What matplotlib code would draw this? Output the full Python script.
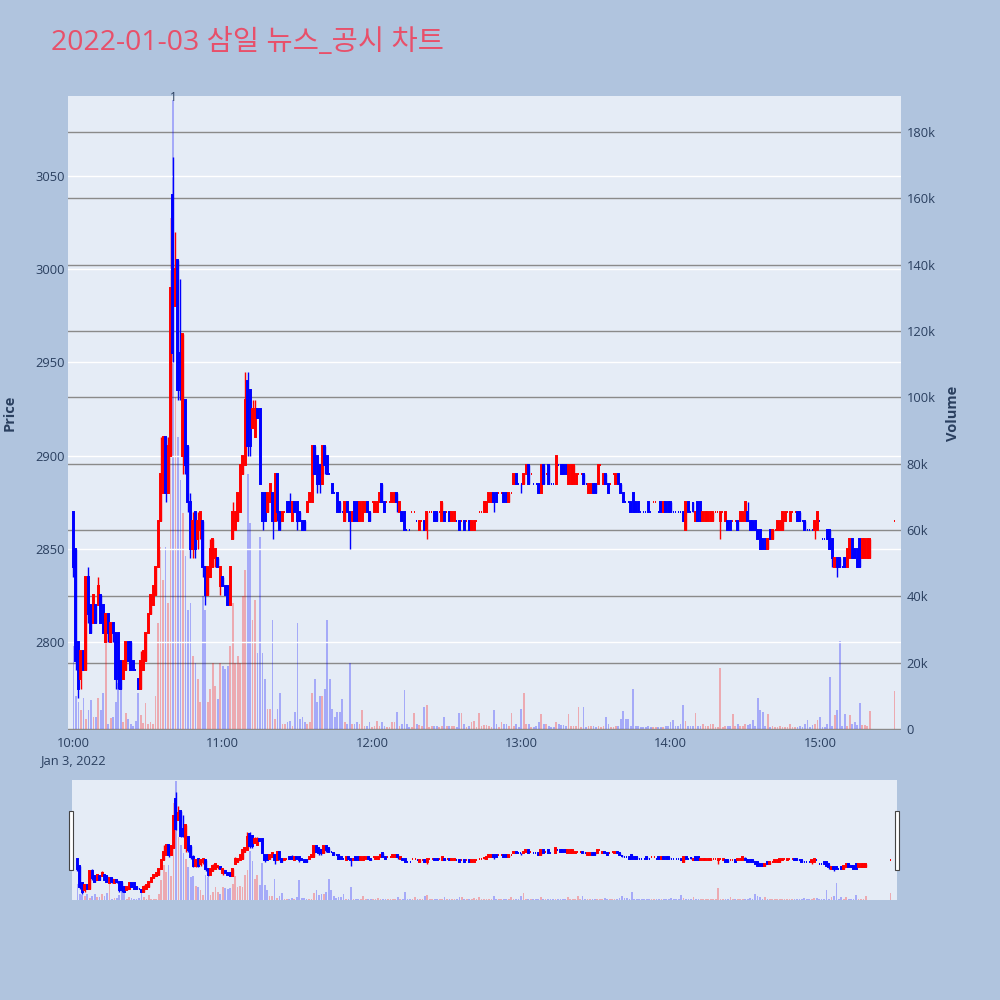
import matplotlib
matplotlib.use("Agg")
import matplotlib.pyplot as plt
from matplotlib.patches import Rectangle
import matplotlib.transforms as mtransforms

plt.rcParams['font.family'] = ['Open Sans', 'Noto Sans CJK KR', 'DejaVu Sans']

TITLE = "2022-01-03 삼일 뉴스_공시 차트"

# minutes after 10:00 (10:00 ... 15:20, then 15:30 close)
minutes = list(range(0, 321)) + [330]

open_ = [
    2870, 2850, 2800, 2780, 2795, 2785, 2835, 2820, 2810, 2820,
    2820, 2825, 2820, 2800, 2815, 2800, 2810, 2805, 2805, 2790,
    2780, 2785, 2800, 2800, 2790, 2785, 2780, 2775, 2785, 2790,
    2805, 2815, 2820, 2825, 2840, 2865, 2880, 2910, 2880, 2900,
    3040, 2980, 3005, 2955, 2900, 2930, 2905, 2875, 2850, 2870,
    2855, 2860, 2865, 2840, 2825, 2835, 2840, 2845, 2845, 2830,
    2835, 2830, 2830, 2820, 2855, 2860, 2865, 2870, 2890, 2895,
    2940, 2935, 2915, 2910, 2925, 2925, 2880, 2880, 2870, 2875,
    2880, 2865, 2890, 2870, 2865, 2870, 2875, 2875, 2865, 2875,
    2875, 2870, 2865, 2865, 2870, 2875, 2875, 2905, 2900, 2895,
    2885, 2905, 2900, 2890, 2885, 2880, 2880, 2875, 2870, 2865,
    2875, 2870, 2865, 2875, 2875, 2865, 2865, 2870, 2875, 2870,
    2875, 2870, 2870, 2875, 2885, 2875, 2875, 2875, 2875, 2875,
    2880, 2870, 2870, 2870, 2860, 2860, 2870, 2870, 2865, 2860,
    2865, 2865, 2860, 2870, 2870, 2870, 2870, 2870, 2865, 2870,
    2870, 2870, 2865, 2865, 2865, 2865, 2865, 2865, 2865, 2865,
    2860, 2860, 2865, 2870, 2870, 2870, 2870, 2875, 2875, 2880,
    2880, 2880, 2880, 2880, 2880, 2875, 2880, 2885, 2890, 2885,
    2885, 2885, 2890, 2895, 2890, 2885, 2885, 2885, 2880, 2895,
    2890, 2895, 2885, 2885, 2885, 2895, 2895, 2895, 2895, 2885,
    2885, 2885, 2885, 2890, 2890, 2890, 2885, 2880, 2880, 2885,
    2885, 2885, 2895, 2885, 2890, 2885, 2885, 2890, 2885, 2890,
    2885, 2880, 2875, 2875, 2875, 2880, 2875, 2875, 2870, 2870,
    2870, 2875, 2870, 2875, 2875, 2870, 2875, 2870, 2875, 2875,
    2875, 2870, 2870, 2870, 2870, 2870, 2860, 2875, 2870, 2875,
    2865, 2875, 2875, 2865, 2865, 2865, 2865, 2865, 2870, 2870,
    2865, 2870, 2865, 2865, 2865, 2865, 2865, 2865, 2865, 2865,
    2865, 2870, 2865, 2865, 2865, 2860, 2860, 2855, 2855, 2850,
    2860, 2855, 2860, 2860, 2860, 2860, 2865, 2870, 2865, 2870,
    2870, 2870, 2870, 2865, 2865, 2860, 2860, 2860, 2860, 2860,
    2865, 2855, 2855, 2860, 2860, 2855, 2840, 2845, 2845, 2840,
    2845, 2840, 2845, 2855, 2850, 2850, 2855, 2845, 2845, 2845, 2845,
    2865,
]

high = [
    2870, 2850, 2800, 2795, 2795, 2835, 2840, 2820, 2825, 2820,
    2835, 2825, 2820, 2815, 2815, 2810, 2810, 2805, 2805, 2790,
    2790, 2800, 2800, 2800, 2790, 2785, 2780, 2795, 2795, 2805,
    2815, 2825, 2830, 2840, 2865, 2910, 2910, 2910, 2910, 2990,
    3060, 3020, 3005, 2995, 2965, 2930, 2905, 2880, 2870, 2870,
    2870, 2870, 2865, 2840, 2840, 2855, 2855, 2850, 2845, 2840,
    2835, 2830, 2830, 2840, 2875, 2870, 2880, 2895, 2900, 2945,
    2945, 2935, 2930, 2930, 2925, 2925, 2880, 2880, 2880, 2885,
    2880, 2890, 2890, 2870, 2870, 2870, 2875, 2880, 2875, 2875,
    2875, 2870, 2865, 2865, 2875, 2880, 2905, 2905, 2900, 2895,
    2905, 2905, 2900, 2890, 2885, 2880, 2880, 2875, 2870, 2875,
    2875, 2870, 2870, 2875, 2875, 2875, 2875, 2875, 2875, 2870,
    2875, 2875, 2875, 2880, 2885, 2875, 2875, 2875, 2880, 2880,
    2880, 2875, 2870, 2870, 2860, 2860, 2870, 2870, 2865, 2865,
    2865, 2865, 2870, 2870, 2870, 2870, 2870, 2870, 2875, 2870,
    2870, 2870, 2870, 2870, 2865, 2865, 2865, 2865, 2865, 2865,
    2865, 2865, 2865, 2870, 2870, 2875, 2875, 2880, 2880, 2880,
    2880, 2880, 2880, 2880, 2880, 2880, 2880, 2890, 2890, 2885,
    2885, 2890, 2895, 2895, 2890, 2885, 2885, 2885, 2895, 2895,
    2890, 2895, 2885, 2885, 2900, 2895, 2895, 2895, 2895, 2895,
    2895, 2895, 2890, 2890, 2890, 2890, 2885, 2885, 2885, 2885,
    2885, 2895, 2895, 2890, 2890, 2885, 2885, 2890, 2890, 2890,
    2885, 2880, 2875, 2875, 2875, 2880, 2875, 2875, 2870, 2870,
    2870, 2875, 2870, 2875, 2875, 2870, 2875, 2875, 2875, 2875,
    2875, 2870, 2870, 2870, 2870, 2870, 2875, 2875, 2870, 2875,
    2870, 2875, 2875, 2870, 2870, 2870, 2870, 2870, 2870, 2870,
    2870, 2870, 2870, 2865, 2865, 2865, 2865, 2865, 2870, 2870,
    2875, 2875, 2865, 2865, 2865, 2860, 2860, 2855, 2855, 2855,
    2860, 2860, 2860, 2865, 2865, 2870, 2870, 2870, 2870, 2870,
    2870, 2870, 2870, 2865, 2865, 2860, 2860, 2860, 2865, 2870,
    2865, 2855, 2855, 2860, 2860, 2855, 2845, 2845, 2845, 2840,
    2845, 2850, 2855, 2855, 2850, 2850, 2855, 2855, 2855, 2855, 2855,
    2865,
]

low = [
    2835, 2785, 2770, 2775, 2785, 2785, 2810, 2805, 2810, 2810,
    2820, 2810, 2805, 2800, 2800, 2800, 2800, 2775, 2775, 2775,
    2780, 2785, 2790, 2785, 2785, 2785, 2775, 2775, 2785, 2790,
    2805, 2815, 2820, 2825, 2840, 2865, 2880, 2875, 2880, 2900,
    2950, 2980, 2930, 2930, 2890, 2890, 2870, 2845, 2845, 2845,
    2850, 2855, 2835, 2820, 2825, 2835, 2840, 2840, 2840, 2825,
    2830, 2825, 2820, 2820, 2855, 2860, 2865, 2870, 2890, 2895,
    2900, 2900, 2915, 2910, 2920, 2885, 2860, 2865, 2870, 2875,
    2855, 2865, 2865, 2860, 2865, 2870, 2870, 2870, 2865, 2870,
    2860, 2865, 2860, 2860, 2870, 2875, 2875, 2890, 2880, 2880,
    2885, 2890, 2890, 2890, 2880, 2880, 2870, 2870, 2870, 2865,
    2870, 2850, 2865, 2865, 2865, 2865, 2865, 2870, 2870, 2865,
    2875, 2870, 2870, 2875, 2875, 2870, 2875, 2875, 2875, 2875,
    2870, 2870, 2865, 2860, 2860, 2860, 2870, 2870, 2865, 2860,
    2865, 2860, 2855, 2870, 2870, 2865, 2865, 2870, 2865, 2865,
    2870, 2865, 2865, 2865, 2865, 2860, 2865, 2860, 2865, 2860,
    2860, 2860, 2865, 2870, 2870, 2870, 2870, 2875, 2875, 2870,
    2875, 2880, 2880, 2875, 2875, 2875, 2880, 2885, 2885, 2885,
    2880, 2885, 2890, 2885, 2890, 2885, 2885, 2880, 2880, 2885,
    2890, 2885, 2885, 2885, 2885, 2895, 2890, 2890, 2890, 2885,
    2885, 2885, 2885, 2890, 2890, 2885, 2885, 2880, 2880, 2880,
    2880, 2885, 2895, 2885, 2885, 2880, 2885, 2890, 2885, 2885,
    2880, 2875, 2875, 2875, 2870, 2870, 2870, 2870, 2870, 2870,
    2870, 2870, 2870, 2875, 2875, 2870, 2870, 2870, 2870, 2870,
    2870, 2870, 2870, 2870, 2870, 2865, 2860, 2870, 2870, 2870,
    2865, 2865, 2865, 2865, 2865, 2865, 2865, 2865, 2870, 2870,
    2855, 2870, 2865, 2860, 2860, 2865, 2865, 2860, 2865, 2865,
    2865, 2865, 2860, 2860, 2860, 2855, 2850, 2850, 2850, 2850,
    2855, 2855, 2860, 2860, 2860, 2860, 2865, 2870, 2865, 2870,
    2870, 2865, 2865, 2865, 2860, 2860, 2860, 2860, 2855, 2860,
    2865, 2855, 2855, 2855, 2850, 2840, 2840, 2835, 2840, 2840,
    2840, 2840, 2845, 2845, 2845, 2840, 2840, 2845, 2845, 2845, 2845,
    2865,
]

close = [
    2840, 2790, 2775, 2795, 2785, 2835, 2815, 2805, 2825, 2810,
    2830, 2810, 2805, 2815, 2805, 2810, 2805, 2780, 2780, 2775,
    2790, 2800, 2790, 2785, 2785, 2785, 2775, 2790, 2795, 2805,
    2815, 2825, 2830, 2840, 2865, 2890, 2910, 2880, 2905, 2990,
    2955, 3000, 2935, 2935, 2965, 2895, 2875, 2850, 2865, 2850,
    2865, 2870, 2840, 2825, 2840, 2850, 2855, 2850, 2840, 2840,
    2830, 2825, 2820, 2840, 2870, 2870, 2880, 2895, 2900, 2930,
    2905, 2905, 2925, 2925, 2920, 2885, 2865, 2865, 2880, 2885,
    2865, 2890, 2870, 2860, 2870, 2870, 2870, 2870, 2875, 2870,
    2865, 2865, 2860, 2860, 2875, 2880, 2905, 2890, 2885, 2885,
    2905, 2895, 2890, 2890, 2880, 2880, 2870, 2870, 2870, 2875,
    2870, 2865, 2870, 2865, 2865, 2875, 2875, 2875, 2870, 2865,
    2875, 2875, 2875, 2880, 2875, 2870, 2875, 2875, 2880, 2880,
    2875, 2875, 2865, 2860, 2860, 2860, 2870, 2870, 2865, 2865,
    2865, 2860, 2870, 2870, 2870, 2865, 2865, 2870, 2875, 2865,
    2870, 2865, 2870, 2870, 2865, 2860, 2865, 2860, 2865, 2860,
    2865, 2865, 2865, 2870, 2870, 2875, 2875, 2880, 2880, 2875,
    2875, 2880, 2880, 2875, 2875, 2880, 2880, 2890, 2885, 2885,
    2885, 2890, 2895, 2885, 2890, 2885, 2885, 2880, 2895, 2885,
    2890, 2885, 2885, 2885, 2900, 2895, 2890, 2890, 2890, 2895,
    2895, 2895, 2890, 2890, 2890, 2885, 2885, 2885, 2885, 2880,
    2880, 2895, 2895, 2890, 2885, 2880, 2885, 2890, 2890, 2885,
    2880, 2875, 2875, 2875, 2870, 2870, 2870, 2870, 2870, 2870,
    2870, 2870, 2870, 2875, 2875, 2870, 2870, 2875, 2870, 2870,
    2870, 2870, 2870, 2870, 2870, 2865, 2875, 2870, 2870, 2870,
    2870, 2865, 2865, 2870, 2870, 2870, 2870, 2870, 2870, 2870,
    2870, 2870, 2870, 2860, 2860, 2865, 2865, 2860, 2870, 2870,
    2875, 2865, 2860, 2860, 2860, 2855, 2850, 2850, 2850, 2855,
    2855, 2860, 2860, 2865, 2865, 2870, 2870, 2870, 2870, 2870,
    2870, 2865, 2865, 2865, 2860, 2860, 2860, 2860, 2865, 2870,
    2865, 2855, 2855, 2855, 2850, 2845, 2845, 2840, 2840, 2840,
    2840, 2850, 2855, 2845, 2845, 2840, 2840, 2855, 2855, 2855, 2855,
    2865,
]

volume = [
    25000, 10000, 8000, 5700, 9200, 3000, 5700, 8700, 3700, 3700,
    9200, 5700, 10800, 34900, 1500, 3200, 3500, 8000, 13800, 12700,
    2000, 4800, 3000, 1500, 1000, 2500, 10800, 4200, 1800, 7900,
    1500, 2000, 1500, 9800, 32000, 55000, 45000, 55000, 38000, 154000,
    189500, 100000, 88000, 75000, 65000, 52000, 36000, 38000, 22000, 20000,
    15000, 8000, 40000, 36000, 8000, 12000, 20000, 13000, 9000, 20000,
    19000, 18000, 19000, 25000, 38000, 20000, 22000, 20000, 40000, 48000,
    77000, 62000, 33000, 39000, 23000, 58000, 23000, 15000, 6000, 6000,
    33000, 3000, 6000, 11000, 1500, 1500, 2000, 2500, 1000, 5000,
    32000, 3000, 3500, 2000, 1500, 2000, 11000, 15000, 8000, 10000,
    10000, 12000, 33000, 15000, 6000, 3500, 5000, 5000, 9000, 2000,
    1500, 20000, 1500, 1500, 2000, 1500, 5700, 1000, 800, 2000,
    500, 800, 2500, 1000, 2000, 800, 600, 500, 2000, 2000,
    5000, 800, 1500, 11700, 1500, 500, 500, 4800, 1500, 1200,
    800, 6600, 7300, 600, 1000, 1000, 800, 500, 1000, 3700,
    800, 800, 1000, 800, 500, 4800, 4800, 1500, 500, 800,
    2000, 2500, 500, 4800, 1000, 1200, 1200, 800, 600, 5700,
    1500, 500, 2000, 1500, 1500, 800, 4800, 1000, 1500, 500,
    6000, 10800, 1500, 1500, 500, 500, 1000, 2000, 4500, 1500,
    1500, 800, 500, 500, 2000, 1500, 1200, 1200, 800, 4500,
    1000, 800, 1000, 6600, 500, 6600, 500, 800, 800, 1000,
    500, 1000, 500, 800, 3500, 1500, 500, 500, 800, 1000,
    3000, 5500, 3000, 3000, 1000, 12000, 1000, 800, 500, 500,
    500, 800, 500, 500, 500, 500, 500, 500, 800, 1000,
    2000, 2700, 800, 800, 1500, 7300, 2500, 1000, 800, 800,
    4800, 1000, 800, 1500, 1000, 1000, 1500, 1500, 500, 500,
    18300, 500, 800, 1000, 800, 4500, 800, 1500, 800, 800,
    1500, 1200, 1500, 2700, 1000, 9200, 5700, 5000, 800, 4500,
    500, 800, 500, 500, 800, 600, 600, 500, 1500, 500,
    500, 500, 800, 500, 1500, 2700, 500, 1200, 1500, 2700,
    3600, 500, 500, 1500, 15700, 1000, 4200, 5700, 26600, 800,
    4500, 800, 4200, 1500, 2000, 1200, 7900, 1200, 1200, 1000, 5400,
    11500,
]

tick_minutes = [0, 60, 120, 180, 240, 300]
tick_labels = ["10:00\nJan 3, 2022", "11:00", "12:00", "13:00", "14:00", "15:00"]
price_ticks = [2800, 2850, 2900, 2950, 3000, 3050]
volume_ticks = [0, 20000, 40000, 60000, 80000, 100000, 120000, 140000, 160000, 180000]
volume_tick_labels = ["0", "20k", "40k", "60k", "80k", "100k", "120k", "140k", "160k", "180k"]
news_minute = 40
news_label = "1"

RED = (1.0, 0.0, 0.0)
BLUE = (0.0, 0.0, 1.0)
PLOT_BG = "#E5ECF6"
PAPER_BG = "#B0C4DE"
FONT_C = "#2a3f5f"

# candle colours (flat candles follow the previous close, like plotly)
colors = []
prev = BLUE
for i, (o, c) in enumerate(zip(open_, close)):
    if c > o:
        col = RED
    elif c < o:
        col = BLUE
    else:
        pc = close[i - 1] if i > 0 else c
        col = RED if c > pc else (BLUE if c < pc else prev)
    colors.append(col)
    prev = col
vol_colors = [(r, g, b, 0.28) for (r, g, b) in colors]

W = 1000.0


def box(x0, y0, x1, y1):
    return [x0 / W, 1 - y1 / W, (x1 - x0) / W, (y1 - y0) / W]


XLIM = (-2.2, 332.6)
PLIM = (2752.8, 3092.9)
VLIM = (-300, 190800)

fig = plt.figure(figsize=(10, 10), dpi=100, facecolor=PAPER_BG)


def draw(ax_p, ax_v):
    ax_v.bar(minutes, volume, width=0.7, color=vol_colors, linewidth=0)
    bottoms = [min(o, c) for o, c in zip(open_, close)]
    heights = [abs(c - o) for o, c in zip(open_, close)]
    ax_p.vlines(minutes, low, high, colors=colors, linewidth=1.0, zorder=3)
    ax_p.bar(minutes, heights, bottom=bottoms, width=0.4, color=colors,
             edgecolor=colors, linewidth=1.4, zorder=4)


# ---------------- main chart ----------------
ax_p = fig.add_axes(box(68, 96, 901, 730))
ax_v = ax_p.twinx()
ax_v.set_zorder(1)
ax_p.set_zorder(2)
ax_p.patch.set_visible(False)
ax_v.patch.set_visible(True)
ax_v.patch.set_facecolor(PLOT_BG)

draw(ax_p, ax_v)

ax_p.set_xlim(*XLIM)
ax_p.set_ylim(*PLIM)
ax_v.set_ylim(*VLIM)

for a in (ax_p, ax_v):
    for s in a.spines.values():
        s.set_visible(False)

ax_p.set_yticks(price_ticks)
ax_p.set_yticklabels([str(t) for t in price_ticks])
ax_p.yaxis.grid(True, color="white", linewidth=1.0)
ax_p.set_axisbelow(True)
ax_p.tick_params(axis="y", length=0, pad=2, labelsize=9.3, colors=FONT_C)

ax_v.set_yticks(volume_ticks)
ax_v.set_yticklabels(volume_tick_labels)
ax_v.yaxis.grid(True, color="#8a8a8a", linewidth=1.0)
ax_v.set_axisbelow(True)
ax_v.tick_params(axis="y", length=0, pad=4, labelsize=9.3, colors=FONT_C)

ax_p.set_xticks(tick_minutes)
ax_p.set_xticklabels(tick_labels, linespacing=1.4)
ax_p.tick_params(axis="x", length=0, pad=5, labelsize=9.3, colors=FONT_C)
ax_p.xaxis.grid(False)

trans = mtransforms.blended_transform_factory(ax_p.transData, ax_p.transAxes)
ax_p.text(news_minute, 0.998, news_label, transform=trans, ha="center",
          va="center", fontsize=8.5, color=FONT_C, zorder=6)

fig.text(10 / W, 1 - 413 / W, "Price", rotation=90, ha="center", va="center",
         fontsize=10.5, fontweight="bold", color=FONT_C)
fig.text(953 / W, 1 - 413 / W, "Volume", rotation=90, ha="center", va="center",
         fontsize=10.5, fontweight="bold", color=FONT_C)

fig.text(51 / W, 1 - 50.5 / W, TITLE, fontsize=20.5, color="#E8506A",
         ha="left", va="baseline")

# ---------------- range slider ----------------
ax_s = fig.add_axes(box(72, 780, 897, 900))
ax_sv = ax_s.twinx()
ax_sv.set_zorder(1)
ax_s.set_zorder(2)
ax_s.patch.set_visible(False)
ax_sv.patch.set_visible(True)
ax_sv.patch.set_facecolor(PLOT_BG)
draw(ax_s, ax_sv)
ax_s.set_xlim(*XLIM)
ax_s.set_ylim(*PLIM)
ax_sv.set_ylim(*VLIM)
for a in (ax_s, ax_sv):
    a.set_xticks([])
    a.set_yticks([])
    for s in a.spines.values():
        s.set_visible(False)

for x0 in (69, 895):
    r = Rectangle((x0 / W, 1 - 870 / W), 4 / W, 59 / W, transform=fig.transFigure,
                  facecolor="white", edgecolor="#444444", linewidth=0.8, zorder=10)
    fig.patches.append(r)

fig.savefig("out.png", dpi=100, facecolor=PAPER_BG)
